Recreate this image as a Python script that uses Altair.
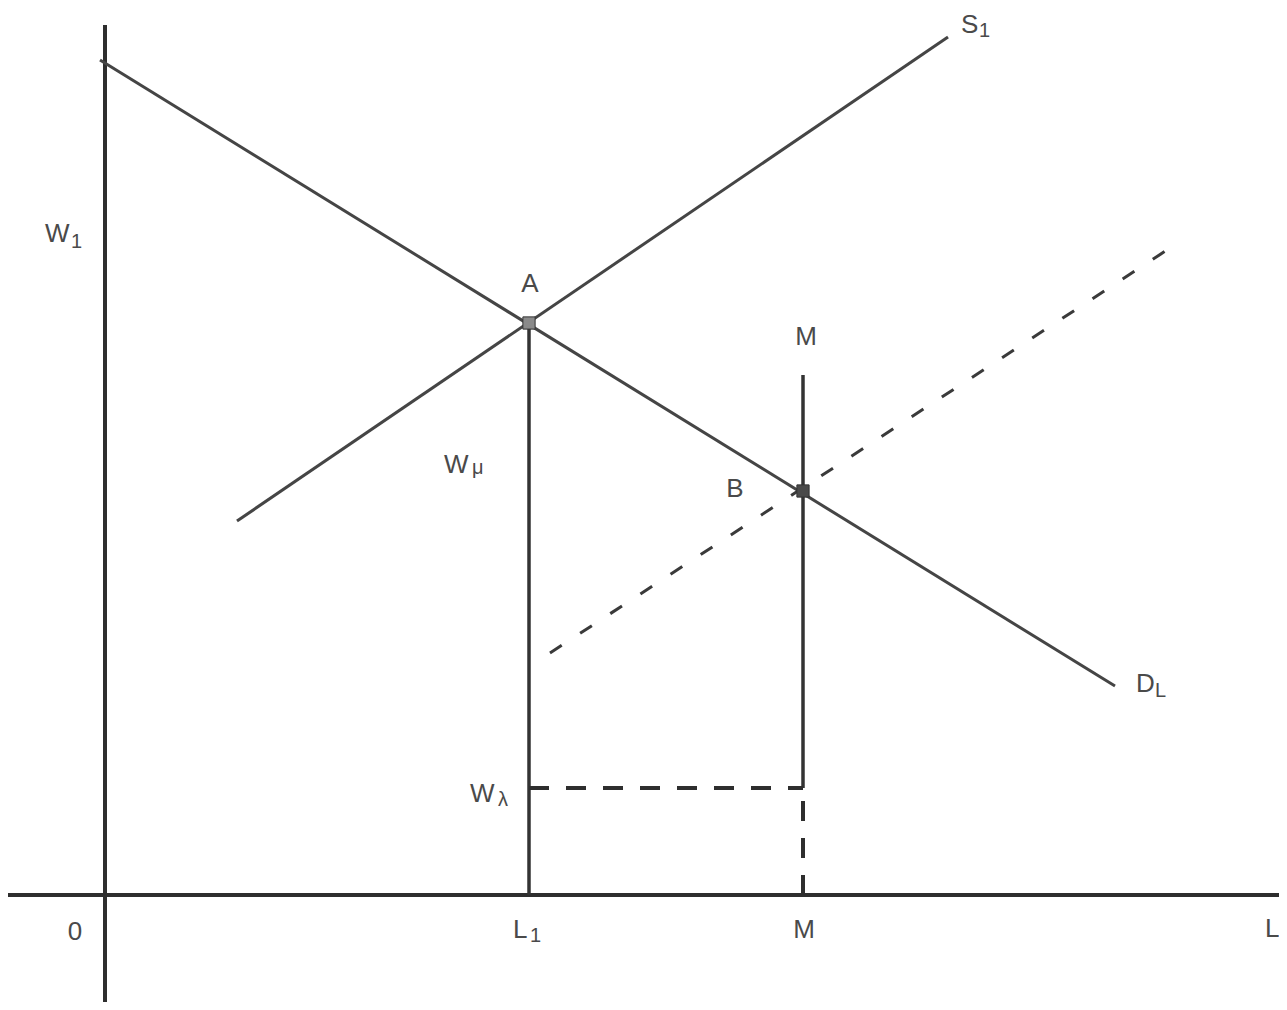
import altair as alt
import pandas as pd

# Diagram coordinates: origin at the intersection of the two axes (0 = origin),
# x = quantity of labour L, y = wage W (arbitrary diagram units).
X_DOMAIN = [-97, 1174]
Y_DOMAIN = [-107, 887]

# axes
axis_x0 = [0, -97]
axis_y0 = [-110, 0]
axis_x1 = [0, 1177]
axis_y1 = [870, 0]

# curves (solid): demand D_L, supply S1
solid_names = ["D_L", "S1"]
solid_x0 = [-5, 132]
solid_y0 = [835, 374]
solid_x1 = [1010, 843]
solid_y1 = [209, 858]

# shifted supply (dashed)
dsup_x0 = [445]
dsup_y0 = [242]
dsup_x1 = [1062]
dsup_y1 = [645]

# vertical guides (solid): L1 and M
vert_x = [424, 698]
vert_y0 = [0, 107]
vert_y1 = [572, 520]

# dashed guides: W_lambda horizontal, M lower part
dguide_x0 = [424, 698]
dguide_y0 = [107, 0]
dguide_x1 = [698, 698]
dguide_y1 = [107, 107]

# equilibrium points A and B
pt_names = ["A", "B"]
pt_x = [424, 698]
pt_y = [572, 404]
pt_col = ["#8a8a8a", "#4a4a4a"]

# labels (left aligned): text, x, y, font size
lab_text = ["W", "1", "S", "1", "W", "μ", "D", "L", "L", "W", "λ", "L", "1"]
lab_x = [-60, -34, 856, 874, 339, 367, 1031, 1050, 1160, 365, 393, 408, 425]
lab_y = [653, 647, 862, 858, 422, 421, 203, 198, -42, 93, 89, -43, -47]
lab_fs = [26, 20, 26, 20, 26, 20, 26, 20, 26, 26, 20, 26, 20]

# labels (centred)
clab_text = ["A", "M", "B", "M", "0"]
clab_x = [425, 701, 630, 699, -30]
clab_y = [603, 550, 398, -43, -45]

xs = alt.Scale(domain=X_DOMAIN, nice=False, zero=False)
ys = alt.Scale(domain=Y_DOMAIN, nice=False, zero=False)


def seg(df, color, width, dash=None):
    kw = dict(color=color, strokeWidth=width, strokeCap="butt")
    if dash:
        kw["strokeDash"] = dash
    return alt.Chart(df).mark_rule(**kw).encode(
        x=alt.X("x0:Q", scale=xs, axis=None),
        y=alt.Y("y0:Q", scale=ys, axis=None),
        x2="x1:Q",
        y2="y1:Q",
    )


axes_df = pd.DataFrame({"x0": axis_x0, "y0": axis_y0, "x1": axis_x1, "y1": axis_y1})
solid_df = pd.DataFrame({"name": solid_names, "x0": solid_x0, "y0": solid_y0,
                         "x1": solid_x1, "y1": solid_y1})
dsup_df = pd.DataFrame({"x0": dsup_x0, "y0": dsup_y0, "x1": dsup_x1, "y1": dsup_y1})
vert_df = pd.DataFrame({"x0": vert_x, "y0": vert_y0, "x1": vert_x, "y1": vert_y1})
dguide_df = pd.DataFrame({"x0": dguide_x0, "y0": dguide_y0, "x1": dguide_x1, "y1": dguide_y1})
pts_df = pd.DataFrame({"name": pt_names, "x": pt_x, "y": pt_y, "c": pt_col})
lab_df = pd.DataFrame({"t": lab_text, "x": lab_x, "y": lab_y, "fs": lab_fs})
clab_df = pd.DataFrame({"t": clab_text, "x": clab_x, "y": clab_y})

axes_layer = seg(axes_df, "#2e2e2e", 4)
solid_layer = seg(solid_df, "#454545", 3)
dsup_layer = seg(dsup_df, "#3a3a3a", 3, [14, 22])
vert_layer = seg(vert_df, "#333333", 3.5)
dguide_layer = seg(dguide_df, "#2e2e2e", 4, [20, 17])

points = alt.Chart(pts_df).mark_point(shape="square", filled=True, size=150, opacity=1,
                                      stroke="#333333", strokeWidth=1).encode(
    x=alt.X("x:Q", scale=xs, axis=None),
    y=alt.Y("y:Q", scale=ys, axis=None),
    fill=alt.Fill("c:N", scale=None),
)

labels = alt.Chart(lab_df).mark_text(align="left", baseline="alphabetic",
                                     font="Liberation Sans", color="#4a4a4a").encode(
    x=alt.X("x:Q", scale=xs, axis=None),
    y=alt.Y("y:Q", scale=ys, axis=None),
    text="t:N",
    size=alt.Size("fs:Q", scale=None),
)

clabels = alt.Chart(clab_df).mark_text(align="center", baseline="alphabetic",
                                       font="Liberation Sans", color="#4a4a4a",
                                       fontSize=26).encode(
    x=alt.X("x:Q", scale=xs, axis=None),
    y=alt.Y("y:Q", scale=ys, axis=None),
    text="t:N",
)

chart = alt.layer(
    axes_layer, solid_layer, dsup_layer, vert_layer, dguide_layer, points, labels, clabels
).properties(
    width=1271, height=994, padding=0, autosize="none", background="white"
).configure_view(stroke=None)

chart.save("out.html", embed_options={"renderer": "svg", "actions": False})
